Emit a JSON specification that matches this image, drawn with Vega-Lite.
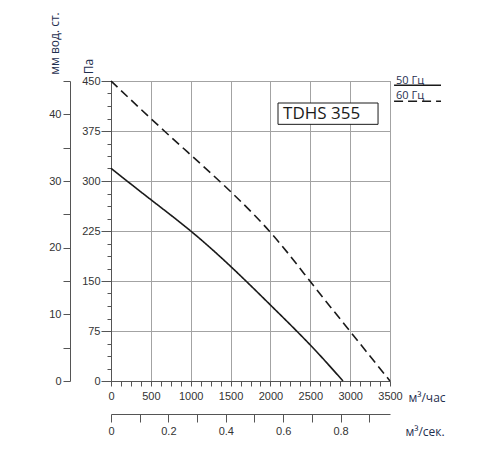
{
  "$schema": "https://vega.github.io/schema/vega-lite/v6.json",
  "autosize": "none",
  "padding": {"left": 111, "top": 81, "right": 110, "bottom": 69},
  "width": 279,
  "height": 300,
  "background": "white",
  "datasets": {
    "curves": [
      {"hz": "50", "q": 0, "p": 319},
      {"hz": "50", "q": 500, "p": 272},
      {"hz": "50", "q": 1000, "p": 225},
      {"hz": "50", "q": 1500, "p": 172},
      {"hz": "50", "q": 2000, "p": 114},
      {"hz": "50", "q": 2500, "p": 54},
      {"hz": "50", "q": 2910, "p": 0},
      {"hz": "60", "q": 0, "p": 450},
      {"hz": "60", "q": 669, "p": 375},
      {"hz": "60", "q": 1359, "p": 300},
      {"hz": "60", "q": 1985, "p": 225},
      {"hz": "60", "q": 2495, "p": 150},
      {"hz": "60", "q": 2996, "p": 75},
      {"hz": "60", "q": 3500, "p": 0}
    ],
    "box": [{"x1": 2095, "x2": 3350, "y1": 385, "y2": 417, "name": "TDHS 355", "tx": 2158, "ty": 401}],
    "legendText": [
      {"lab": "50 Гц", "x": 3576, "y": 450},
      {"lab": "60 Гц", "x": 3576, "y": 427}
    ],
    "legendLines": [
      {"hz": "50", "x": 3551, "x2": 4140, "y": 443.5},
      {"hz": "60", "x": 3551, "x2": 4140, "y": 419.5}
    ]
  },
  "config": {
    "view": {"stroke": "#8a8a8a", "strokeWidth": 1},
    "axis": {
      "labelFont": "Liberation Sans",
      "labelFontSize": 11,
      "labelColor": "#333333",
      "domainColor": "#555555",
      "tickColor": "#555555",
      "gridColor": "#a3a3a3",
      "titleFont": "Open Sans",
      "titleFontSize": 12,
      "titleFontWeight": "normal",
      "titleColor": "#1f2f4f"
    }
  },
  "resolve": {"axis": {"x": "independent", "y": "independent"}},
  "layer": [
    {
      "data": {"name": "curves"},
      "mark": {"type": "line", "strokeWidth": 1.6, "interpolate": "natural"},
      "encoding": {
        "x": {
          "field": "q",
          "type": "quantitative",
          "scale": {"domain": [0, 3500], "nice": false, "zero": false},
          "axis": {
            "orient": "bottom",
            "values": [0, 125, 250, 375, 500, 625, 750, 875, 1000, 1125, 1250, 1375, 1500, 1625, 1750, 1875, 2000, 2125, 2250, 2375, 2500, 2625, 2750, 2875, 3000, 3125, 3250, 3375, 3500],
            "format": "d",
            "labelExpr": "datum.value % 500 === 0 ? datum.label : ''",
            "labelFlush": false,
            "labelOverlap": false,
            "tickSize": 5,
            "labelPadding": 4,
            "grid": true,
            "gridOpacity": {"condition": {"test": "datum.value % 500 === 0", "value": 1}, "value": 0},
            "title": "м³/час",
            "titleAnchor": "start",
            "titleAlign": "left",
            "titleBaseline": "middle",
            "titleX": 297,
            "titleY": 16
          }
        },
        "y": {
          "field": "p",
          "type": "quantitative",
          "scale": {"domain": [0, 450], "nice": false, "zero": false},
          "axis": {
            "orient": "left",
            "values": [0, 18.75, 37.5, 56.25, 75, 93.75, 112.5, 131.25, 150, 168.75, 187.5, 206.25, 225, 243.75, 262.5, 281.25, 300, 318.75, 337.5, 356.25, 375, 393.75, 412.5, 431.25, 450],
            "labelExpr": "datum.value % 75 === 0 ? format(datum.value, 'd') : ''",
            "labelFlush": false,
            "labelOverlap": false,
            "tickSize": {"condition": {"test": "datum.value % 75 === 0", "value": 10}, "value": 4},
            "labelPadding": 1,
            "grid": true,
            "gridOpacity": {"condition": {"test": "datum.value % 75 === 0", "value": 1}, "value": 0},
            "title": "Па",
            "titleAngle": 270,
            "titleAlign": "center",
            "titleBaseline": "middle",
            "titleX": -23,
            "titleY": -15
          }
        },
        "color": {"field": "hz", "type": "nominal", "scale": {"range": ["#1a1a1a", "#1a1a1a"]}, "legend": null},
        "strokeDash": {"field": "hz", "type": "nominal", "scale": {"domain": ["50", "60"], "range": [[1, 0], [9, 5]]}, "legend": null}
      }
    },
    {
      "data": {"name": "curves"},
      "mark": {"type": "line", "strokeOpacity": 0},
      "encoding": {
        "x": {
          "field": "q",
          "type": "quantitative",
          "axis": {
            "orient": "bottom",
            "offset": 33,
            "values": [0, 360, 720, 1080, 1440, 1800, 2160, 2520, 2880, 3240],
            "labelExpr": "datum.value % 720 === 0 ? (datum.value === 0 ? '0' : format(datum.value / 3600, '.1f')) : ''",
            "labelFlush": false,
            "labelOverlap": false,
            "tickSize": 8,
            "labelPadding": 3,
            "grid": false,
            "title": "м³/сек.",
            "titleAnchor": "start",
            "titleAlign": "left",
            "titleBaseline": "middle",
            "titleX": 294,
            "titleY": 17
          }
        },
        "y": {
          "field": "p",
          "type": "quantitative",
          "axis": {
            "orient": "left",
            "offset": 41,
            "values": [0, 50, 100, 150, 200, 250, 300, 350, 400, 450],
            "labelExpr": "datum.value % 100 === 0 ? format(datum.value / 10, 'd') : ''",
            "labelFlush": false,
            "labelOverlap": false,
            "tickSize": 7,
            "labelPadding": 2,
            "grid": false,
            "title": "мм вод. ст.",
            "titleAngle": 270,
            "titleAlign": "center",
            "titleBaseline": "middle",
            "titleX": -16,
            "titleY": -38
          }
        }
      }
    },
    {
      "data": {"name": "box"},
      "mark": {"type": "rect", "fill": "white", "stroke": "#1a1a1a", "strokeWidth": 1, "clip": false},
      "encoding": {
        "x": {"field": "x1", "type": "quantitative", "axis": null},
        "x2": {"field": "x2"},
        "y": {"field": "y1", "type": "quantitative", "axis": null},
        "y2": {"field": "y2"}
      }
    },
    {
      "data": {"name": "box"},
      "mark": {"type": "text", "align": "left", "baseline": "middle", "font": "Open Sans", "fontSize": 17, "color": "#1a1a1a", "clip": false},
      "encoding": {
        "x": {"field": "tx", "type": "quantitative", "axis": null},
        "y": {"field": "ty", "type": "quantitative", "axis": null},
        "text": {"field": "name"}
      }
    },
    {
      "data": {"name": "legendText"},
      "mark": {"type": "text", "align": "left", "baseline": "middle", "font": "Open Sans", "fontSize": 11, "color": "#1f2f4f", "clip": false},
      "encoding": {
        "x": {"field": "x", "type": "quantitative", "axis": null},
        "y": {"field": "y", "type": "quantitative", "axis": null},
        "text": {"field": "lab"}
      }
    },
    {
      "data": {"name": "legendLines"},
      "mark": {"type": "rule", "clip": false, "strokeWidth": 1.5},
      "encoding": {
        "x": {"field": "x", "type": "quantitative", "axis": null},
        "x2": {"field": "x2"},
        "y": {"field": "y", "type": "quantitative", "axis": null},
        "color": {"field": "hz", "type": "nominal", "scale": {"domain": ["50", "60"], "range": ["#777777", "#1a1a1a"]}, "legend": null},
        "strokeDash": {"field": "hz", "type": "nominal", "legend": null}
      }
    }
  ]
}
